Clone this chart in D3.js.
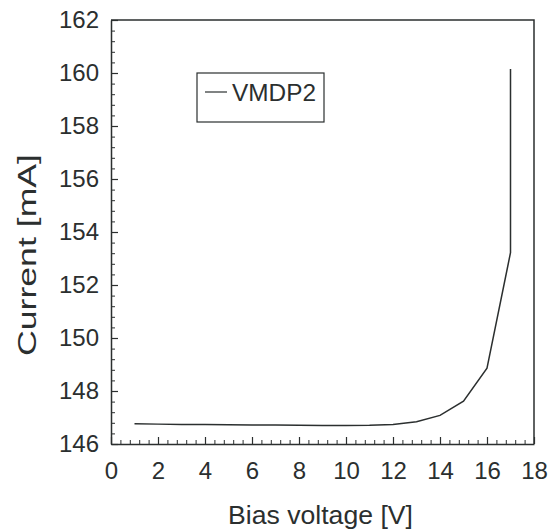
<!DOCTYPE html>
<html lang="en">
<head>
    <meta charset="UTF-8">
    <script type="text/javascript" src="https://d3js.org/d3.v7.min.js"></script>
    <title>Current vs bias voltage</title>
    <style>
        body { margin: 0; background: #fff; }
        text { font-family: "Liberation Sans", Arial, sans-serif; fill: #2b2f2f; }
    </style>
</head>
<body>
<div id="Area"></div>
<script>
    // data
    const biasVoltage = [1, 2, 3, 4, 5, 6, 7, 8, 9, 10, 11, 12, 13, 14, 15, 16, 17, 17];
    const current = [146.76, 146.75, 146.74, 146.74, 146.73, 146.72, 146.72, 146.71, 146.70,
                     146.70, 146.71, 146.74, 146.84, 147.08, 147.62, 148.86, 153.22, 160.15];
    const xTicks = [0, 2, 4, 6, 8, 10, 12, 14, 16, 18];
    const yTicks = [146, 148, 150, 152, 154, 156, 158, 160, 162];
    const seriesName = "VMDP2";

    const margin = {top: 20, right: 26, bottom: 86, left: 111};
    const width = 560 - margin.left - margin.right;
    const height = 530 - margin.top - margin.bottom;
    const ink = "#2b2f2f";

    const svg = d3.select("#Area")
      .append("svg")
        .attr("width", 560)
        .attr("height", 530)
      .append("g")
        .attr("transform", "translate(" + margin.left + "," + margin.top + ")");

    const x = d3.scaleLinear().domain([0, 18]).range([0, width]);
    const y = d3.scaleLinear().domain([146, 162]).range([height, 0]);

    const minorX = d3.range(0, 46).map(i => i * 0.4);
    const minorY = d3.range(0, 41).map(i => 146 + i * 0.4);

    // minor ticks (inward)
    svg.append("g")
        .attr("transform", "translate(0," + height + ")")
        .call(d3.axisBottom(x).tickValues(minorX).tickSize(-4).tickSizeOuter(0).tickFormat(""))
        .call(g => g.select(".domain").remove());
    svg.append("g")
        .call(d3.axisLeft(y).tickValues(minorY).tickSize(-4).tickSizeOuter(0).tickFormat(""))
        .call(g => g.select(".domain").remove());

    // major ticks + labels
    const xAxis = svg.append("g")
        .attr("transform", "translate(0," + height + ")")
        .call(d3.axisBottom(x).tickValues(xTicks).tickSize(-7).tickSizeOuter(0).tickPadding(18));
    const yAxis = svg.append("g")
        .call(d3.axisLeft(y).tickValues(yTicks).tickSize(-7).tickSizeOuter(0).tickPadding(12));

    [xAxis, yAxis].forEach(a => {
        a.selectAll("text").style("font-size", "24px").attr("fill", ink);
        a.selectAll("line").attr("stroke", ink).attr("stroke-width", 1.2);
        a.select(".domain").attr("stroke", ink).attr("stroke-width", 1.5);
    });
    svg.selectAll(".tick line").attr("stroke", ink);

    // frame top + right
    svg.append("path")
        .attr("d", "M" + x(0) + "," + y(162) + "H" + x(18) + "V" + y(146))
        .attr("fill", "none")
        .attr("stroke", ink)
        .attr("stroke-width", 1.5);

    // series
    const line = d3.line()
        .x((d, i) => x(biasVoltage[i]))
        .y(d => y(d));
    svg.append("path")
        .datum(current)
        .attr("d", line)
        .attr("fill", "none")
        .attr("stroke", ink)
        .attr("stroke-width", 1.5);

    // legend
    const legend = svg.append("g").attr("transform", "translate(" + (197 - margin.left) + "," + (73 - margin.top) + ")");
    legend.append("rect")
        .attr("width", 127).attr("height", 49)
        .attr("fill", "#fff").attr("stroke", ink).attr("stroke-width", 1.2);
    legend.append("line")
        .attr("x1", 8).attr("x2", 30).attr("y1", 19).attr("y2", 19)
        .attr("stroke", ink).attr("stroke-width", 1.2);
    legend.append("text")
        .attr("x", 35).attr("y", 28)
        .attr("textLength", 84).attr("lengthAdjust", "spacingAndGlyphs")
        .style("font-size", "23px")
        .text(seriesName);

    // axis titles
    svg.append("text")
        .attr("x", width / 2 - 2)
        .attr("y", height + 80)
        .attr("text-anchor", "middle")
        .attr("textLength", 185).attr("lengthAdjust", "spacingAndGlyphs")
        .style("font-size", "25px")
        .text("Bias voltage [V]");
    svg.append("text")
        .attr("transform", "translate(" + (36 - margin.left) + "," + (255 - margin.top) + ") rotate(-90)")
        .attr("text-anchor", "middle")
        .attr("textLength", 202).attr("lengthAdjust", "spacingAndGlyphs")
        .style("font-size", "26px")
        .text("Current [mA]");
</script>
</body>
</html>
